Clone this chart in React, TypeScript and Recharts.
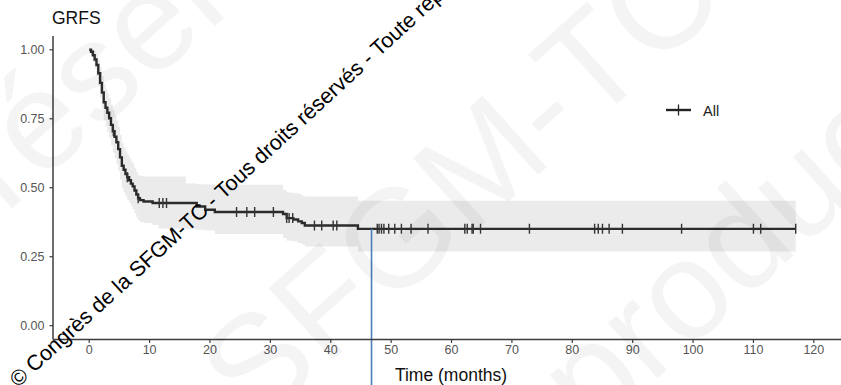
import React from "react";
import {
  ComposedChart,
  Area,
  Line,
  Scatter,
  XAxis,
  YAxis,
  ReferenceLine,
} from "recharts";

// Kaplan–Meier estimate for GRFS (months), with 95% confidence limits
const times = [
  0, 0.3, 0.6, 0.9, 1.2, 1.5, 1.8, 2.1, 2.4, 2.7, 3.0, 3.3, 3.6, 3.9, 4.2, 4.5,
  4.8, 5.1, 5.4, 5.7, 6.0, 6.3, 6.6, 6.9, 7.2, 7.5, 7.8, 8.1, 8.4, 9.0, 10.5,
  11.5, 16.0, 17.8, 19.2, 20.8, 32.1, 32.7, 33.8, 34.6, 35.2, 35.7, 44.5, 117,
];
const survival = [
  1.0, 0.993, 0.98, 0.965, 0.945, 0.915, 0.88, 0.845, 0.81, 0.79, 0.772, 0.752,
  0.728, 0.705, 0.685, 0.665, 0.64, 0.61, 0.58, 0.565, 0.55, 0.538, 0.527,
  0.515, 0.505, 0.49, 0.475, 0.462, 0.455, 0.45, 0.445, 0.445, 0.445, 0.432,
  0.42, 0.412, 0.405, 0.39, 0.385, 0.378, 0.372, 0.363, 0.351, 0.351,
];
const lower = [
  1.0, 0.978, 0.955, 0.932, 0.905, 0.868, 0.826, 0.786, 0.745, 0.722, 0.702,
  0.68, 0.654, 0.628, 0.607, 0.586, 0.56, 0.53, 0.498, 0.483, 0.468, 0.456,
  0.445, 0.433, 0.423, 0.408, 0.393, 0.382, 0.376, 0.372, 0.365, 0.352, 0.35,
  0.348, 0.345, 0.332, 0.318, 0.308, 0.305, 0.3, 0.295, 0.287, 0.269, 0.269,
];
const upper = [
  1.0, 1.0, 1.0, 0.995, 0.985, 0.962, 0.935, 0.905, 0.875, 0.858, 0.842, 0.824,
  0.802, 0.782, 0.763, 0.744, 0.72, 0.692, 0.662, 0.647, 0.632, 0.62, 0.609,
  0.597, 0.587, 0.572, 0.557, 0.546, 0.543, 0.541, 0.541, 0.541, 0.515, 0.513,
  0.512, 0.511, 0.492, 0.483, 0.481, 0.478, 0.472, 0.468, 0.453, 0.453,
];

// Censoring times (months)
const censored = [
  4.0, 6.3, 8.1, 11.6, 12.2, 12.8, 24.4, 26.1, 27.4, 30.5, 32.7, 33.1, 33.7,
  37.3, 38.5, 40.4, 41.0, 47.7, 48.0, 48.4, 48.8, 49.6, 50.6, 51.7, 53.3, 56.1,
  62.2, 62.6, 63.4, 63.6, 64.8, 72.9, 83.7, 84.3, 85.0, 86.1, 88.3, 98.1, 110.0,
  111.2, 117.0,
];

// Median follow-up marker
const medianFollowUp = 46.75;

const xTicks = [0, 10, 20, 30, 40, 50, 60, 70, 80, 90, 100, 110, 120];
const yTicks = [0, 0.25, 0.5, 0.75, 1.0];

const FONT = "'Liberation Sans', Arial, sans-serif";

const curve = times.map((t, i) => ({
  t,
  s: survival[i],
  band: [lower[i], upper[i]],
}));

const survivalAt = (t: number) => {
  let v = survival[0];
  for (let i = 0; i < times.length; i++) {
    if (times[i] <= t) v = survival[i];
  }
  return v;
};

const censorPoints = censored.map((t) => ({ t, s: survivalAt(t) }));
const lastSurvival = survivalAt(medianFollowUp);

const CensorMark = (props: any) => {
  const { cx, cy } = props;
  if (cx == null || cy == null) return null;
  return (
    <line x1={cx} x2={cx} y1={cy - 5} y2={cy + 5} stroke="#333" strokeWidth={1.4} />
  );
};

const Overlay = () => (
  <svg
    width={841}
    height={385}
    style={{ position: "absolute", left: 0, top: 0, pointerEvents: "none" }}
  >
    {/* faint background watermark */}
    <g fill="#000" fillOpacity={0.045} fontFamily={FONT} fontSize={140}>
      <text x={5} y={215} transform="rotate(-42 5 215)">réservés</text>
      <text x={255} y={430} transform="rotate(-42 255 430)">SFGM-TC</text>
      <text x={500} y={520} transform="rotate(-42 500 520)">reproduction</text>
    </g>
    {/* title */}
    <text x={52} y={24} fontFamily={FONT} fontSize={17.5} fill="#111">
      GRFS
    </text>
    {/* x-axis title */}
    <text x={451} y={381} textAnchor="middle" fontFamily={FONT} fontSize={17.5} fill="#111">
      Time (months)
    </text>
    {/* legend */}
    <line x1={666} x2={691} y1={110} y2={110} stroke="#222" strokeWidth={2.4} />
    <line x1={678.5} x2={678.5} y1={104.5} y2={115.5} stroke="#222" strokeWidth={1.3} />
    <text x={703} y={115.5} fontFamily={FONT} fontSize={14.5} fill="#222">
      All
    </text>
    {/* copyright line */}
    <text
      x={18}
      y={388}
      transform="rotate(-42.5 18 388)"
      fontFamily={FONT}
      fontSize={21.5}
      fill="#000"
    >
      © Congrès de la SFGM-TC - Tous droits réservés - Toute reproduction interdite
    </text>
  </svg>
);

export default function App() {
  return (
    <div
      style={{
        position: "absolute",
        left: 0,
        top: 0,
        width: 841,
        height: 385,
        background: "#fff",
      }}
    >
      <ComposedChart
        width={841}
        height={385}
        data={curve}
        margin={{ top: 36, right: 0, left: 0, bottom: 25.5 }}
      >
        <XAxis
          type="number"
          dataKey="t"
          domain={[-6, 124.5]}
          ticks={xTicks}
          allowDataOverflow
          height={20}
          tickSize={3.5}
          tickMargin={2}
          axisLine={{ stroke: "#3d3d3d", strokeWidth: 1.5 }}
          tickLine={{ stroke: "#3d3d3d", strokeWidth: 1.2 }}
          tick={{ fill: "#555", fontSize: 12.5, fontFamily: FONT }}
        />
        <YAxis
          type="number"
          domain={[-0.05, 1.05]}
          ticks={yTicks}
          allowDataOverflow
          width={53}
          tickSize={3.5}
          tickMargin={5}
          tickFormatter={(v: number) => v.toFixed(2)}
          axisLine={{ stroke: "#3d3d3d", strokeWidth: 1.5 }}
          tickLine={{ stroke: "#3d3d3d", strokeWidth: 1.2 }}
          tick={{ fill: "#555", fontSize: 12.5, fontFamily: FONT }}
        />
        <Area
          dataKey="band"
          type="stepAfter"
          fill="#ebebeb"
          fillOpacity={1}
          stroke="none"
          isAnimationActive={false}
          activeDot={false}
        />
        <Line
          dataKey="s"
          type="stepAfter"
          stroke="#2b2b2b"
          strokeWidth={2.4}
          dot={false}
          activeDot={false}
          isAnimationActive={false}
        />
        <Scatter
          data={censorPoints}
          dataKey="s"
          shape={<CensorMark />}
          isAnimationActive={false}
        />
        <ReferenceLine
          segment={[
            { x: medianFollowUp, y: lastSurvival },
            { x: medianFollowUp, y: -0.23 },
          ]}
          stroke="#4a7ebb"
          strokeWidth={1.6}
          ifOverflow="visible"
        />
      </ComposedChart>
      <Overlay />
    </div>
  );
}
